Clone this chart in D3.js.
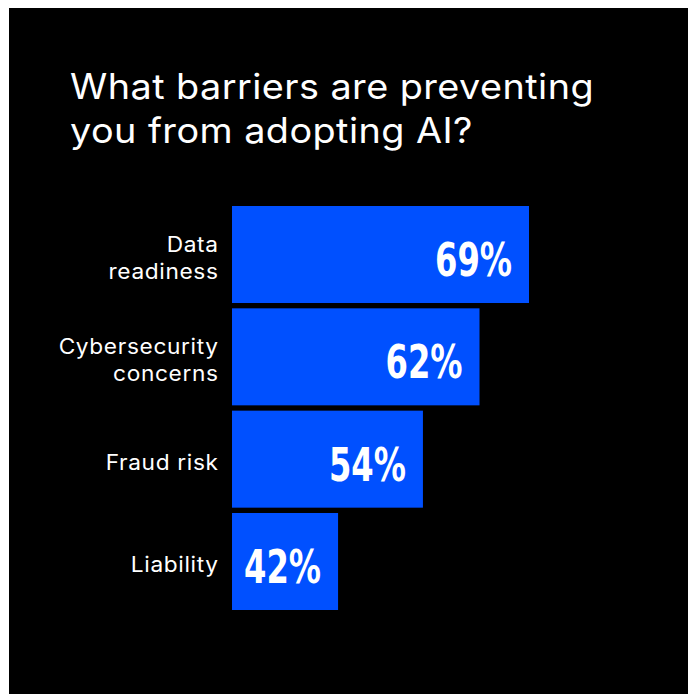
<!DOCTYPE html>
<html>
<head>
<meta charset="utf-8">
<script src="https://cdn.jsdelivr.net/npm/d3@7"></script>
<style>
  html, body { margin: 0; padding: 0; background: #ffffff; }
  svg { display: block; }
</style>
</head>
<body>
<div id="chart"></div>
<script>
// Survey: barriers to AI adoption (share of respondents, %)
const categories = [["Data", "readiness"], ["Cybersecurity", "concerns"], ["Fraud risk"], ["Liability"]];
const values = [69, 62, 54, 42];
const titleLines = ["What barriers are preventing", "you from adopting AI?"];

const W = 688, H = 694;
const svg = d3.select("#chart").append("svg").attr("width", W).attr("height", H);

// dark panel
svg.append("rect").attr("x", 9).attr("y", 8).attr("width", W - 9).attr("height", H - 8).attr("fill", "#000000");

const sansFont = "Inter, 'Open Sans', Lato, sans-serif";
const numFont = "'DejaVu Sans Condensed', 'DejaVu Sans', sans-serif";
const widen = 1.08; // broaden the sans face a little

// title
svg.append("g").selectAll("text").data(titleLines).join("text")
  .attr("transform", (d, i) => `translate(70,${99 + i * 44}) scale(${widen},1)`)
  .attr("fill", "#ffffff")
  .attr("font-family", sansFont)
  .attr("font-size", 35)
  .attr("font-weight", 400)
  .attr("letter-spacing", 0.42)
  .text(d => d);

const keys = categories.map(c => c.join(" "));
const y = d3.scaleBand().domain(keys).range([206, 610]).paddingInner(0.052);
const x = d3.scaleLinear().domain([27, 69]).range([0, 297]);
const x0 = 232;

const rows = svg.append("g").selectAll("g").data(values.map((v, i) => ({ v, key: keys[i], lines: categories[i] })))
  .join("g");

rows.append("rect")
  .attr("x", x0)
  .attr("y", d => y(d.key))
  .attr("width", d => x(d.v))
  .attr("height", y.bandwidth())
  .attr("fill", "#0050ff");

// category labels, right aligned against the bars
rows.append("text")
  .attr("text-anchor", "end")
  .attr("fill", "#ffffff")
  .attr("font-family", sansFont)
  .attr("font-size", 21)
  .attr("letter-spacing", 0.6)
  .attr("transform", d => `translate(218.6,${y(d.key) + y.bandwidth() / 2 + 10.5}) scale(${widen},1)`)
  .each(function (d) {
    const n = d.lines.length;
    d3.select(this).selectAll("tspan").data(d.lines).join("tspan")
      .attr("x", 0)
      .attr("y", (t, i) => (i - (n - 1) / 2) * 27)
      .text(t => t);
  });

// value labels inside the bar ends, set in a narrowed heavy face
const valueLabels = rows.append("text")
  .attr("text-anchor", "end")
  .attr("fill", "#ffffff")
  .attr("font-family", numFont)
  .attr("font-weight", 700)
  .attr("font-size", 46)
  .text(d => d.v + "%");

const natural = valueLabels.node().getComputedTextLength();
const squeeze = natural > 0 ? 77 / natural : 0.8;
valueLabels.attr("transform", d =>
  `translate(${x0 + x(d.v) - 17},${y(d.key) + y.bandwidth() / 2 + 21.5}) scale(${squeeze},1)`);
</script>
</body>
</html>
